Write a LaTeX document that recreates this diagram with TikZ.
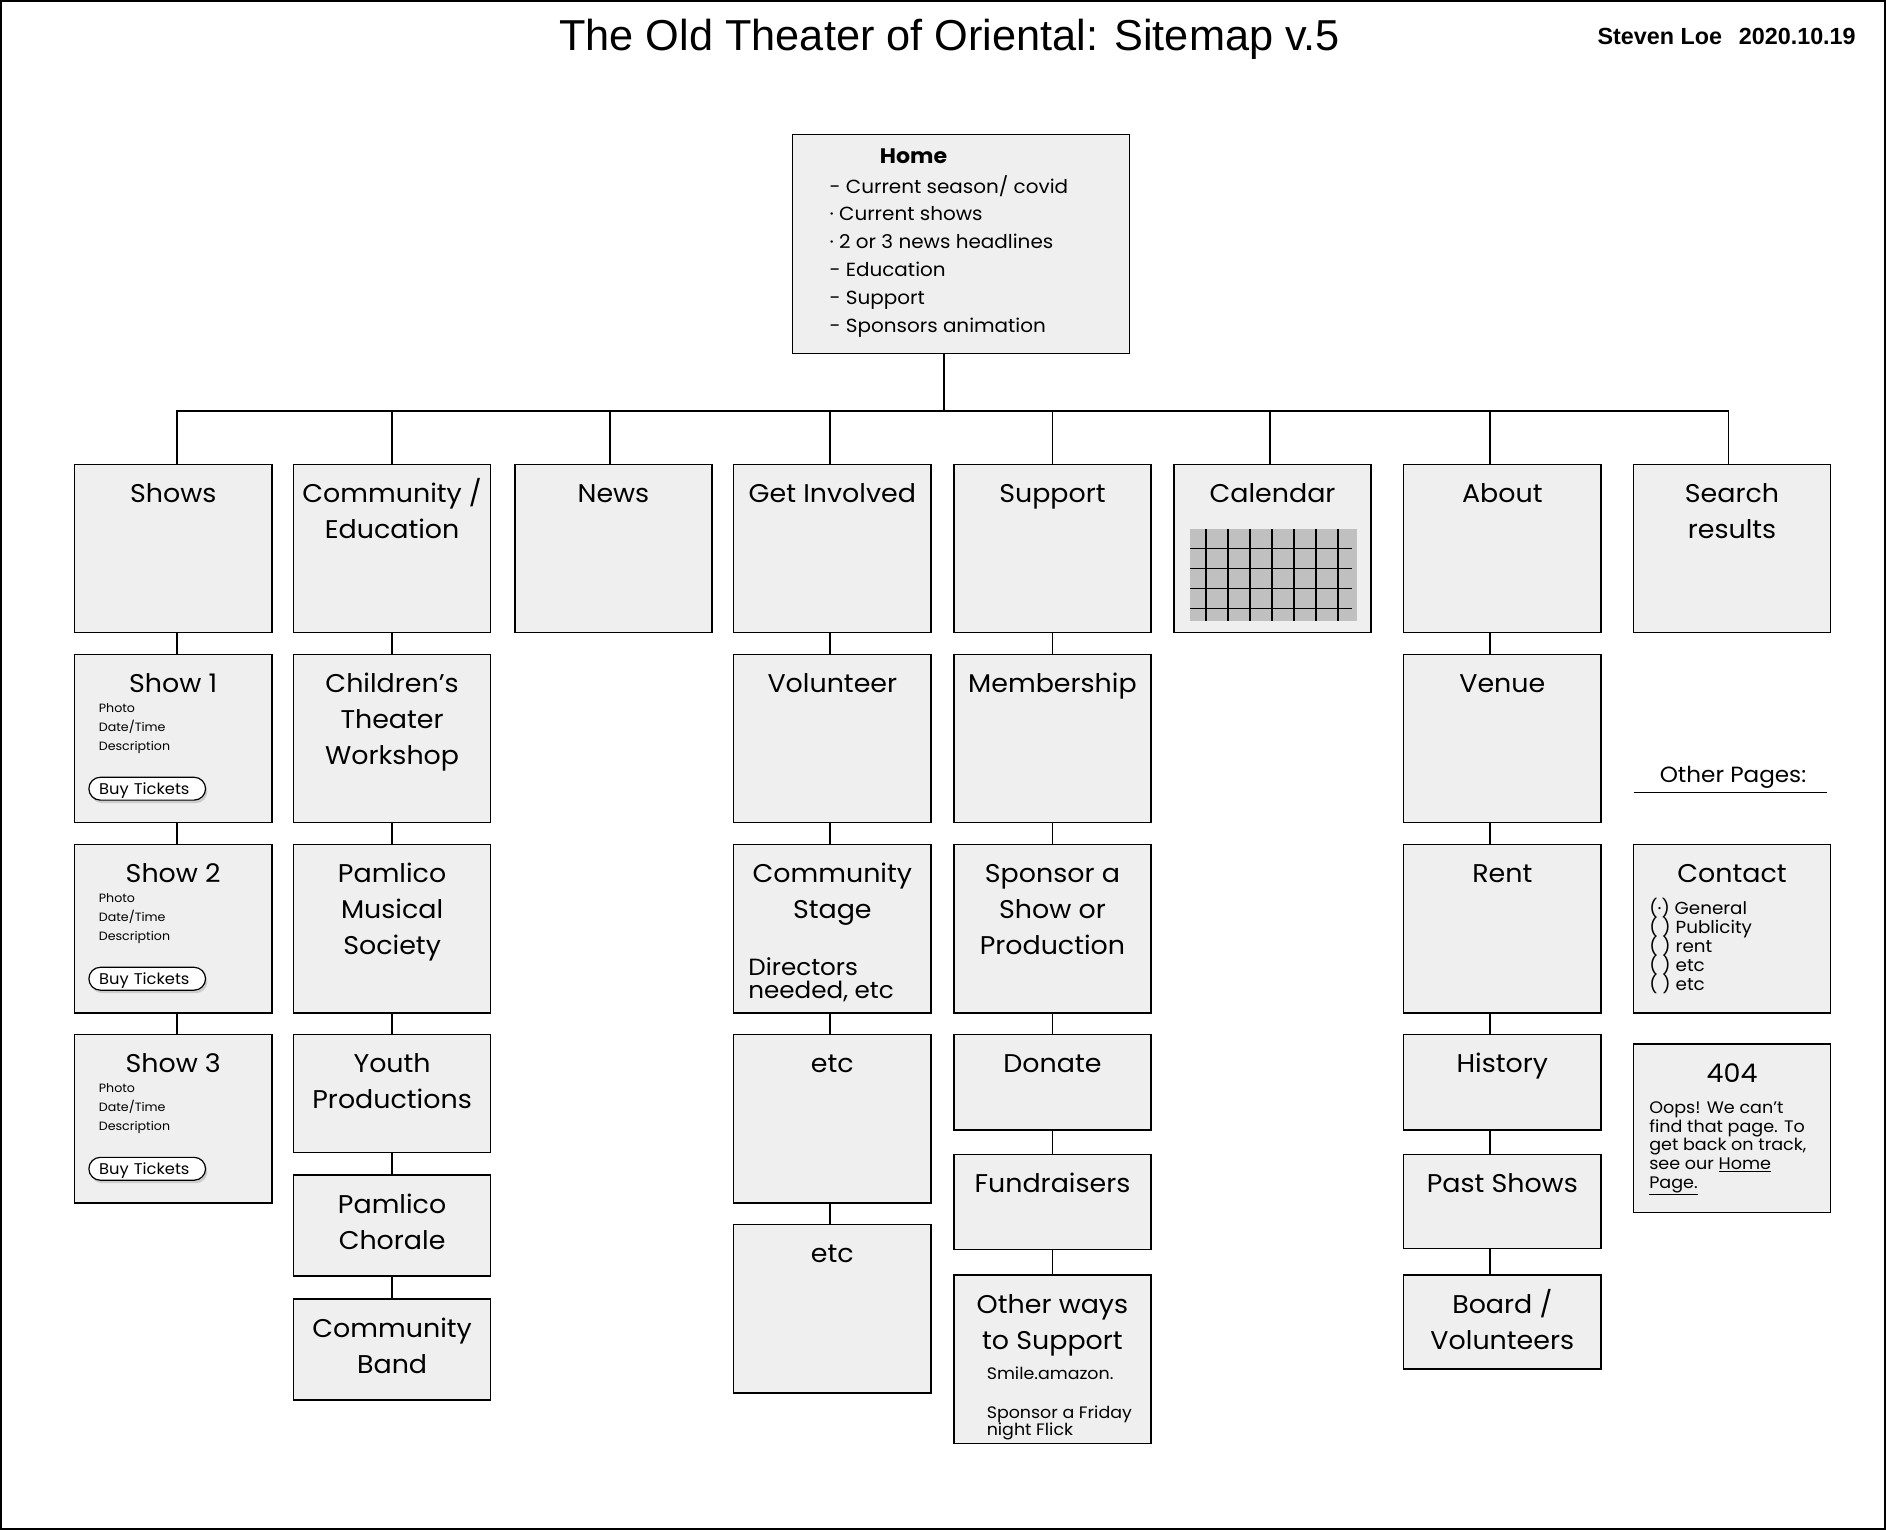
\documentclass[tikz,border=0pt]{standalone}
\usepackage{fontspec}
\setmainfont{Poppins}[FakeStretch=1.05]
\newfontfamily\headfont{Liberation Sans}
\usepackage{tikz}
\usetikzlibrary{positioning,calc,shadows}

\definecolor{boxgray}{HTML}{EFEFEF}
\definecolor{calgray}{HTML}{C0C0C0}

\tikzset{
  pagebox/.style={draw=black, line width=1.2pt, fill=boxgray, anchor=north west,
    minimum width=164pt, inner sep=0pt, outer sep=0pt},
  pagetitle/.style={anchor=north, align=center, inner sep=0pt,
    font=\fontsize{21.3}{30}\selectfont},
  smalltext/.style={anchor=base west, align=left, inner sep=0pt,
    font=\fontsize{10}{15.7}\selectfont},
  listtext/.style={anchor=base west, align=left, inner sep=0pt,
    font=\fontsize{14.5}{15.8}\selectfont},
  ticketbtn/.style={draw=black, line width=1pt, fill=white, anchor=north west,
    rounded corners=9.5pt, text width=80pt, align=left, inner xsep=8.5pt,
    inner ysep=3pt, text height=11.5pt, text depth=1.5pt,
    font=\fontsize{12.9}{16}\selectfont,
    drop shadow={shadow xshift=1.5pt, shadow yshift=-2.5pt, opacity=0.3}},
  link/.style={line width=1.5pt}
}

\begin{document}
\lineskiplimit=-100pt
\begin{tikzpicture}[x=1pt, y=-1pt]
  \useasboundingbox (0,0) rectangle (1568,1272);
  \draw[line width=1.6pt] (0.8,0.8) rectangle (1567.2,1271.2);

  \node[anchor=base, inner sep=0pt, font=\headfont\fontsize{36}{40}\selectfont] (title) at (789.5,41.6)
    {The Old Theater of Oriental: Sitemap v.5};
  \node[anchor=base east, inner sep=0pt, font=\headfont\bfseries\fontsize{19.4}{22}\selectfont] (author) at (1543,36.9)
    {Steven Loe\hspace{14pt}2020.10.19};

% Startseite
  \node[pagebox, minimum width=280pt, minimum height=182pt] (home) at (659,112) {};
  \node[anchor=base, inner sep=0pt, font=\bfseries\fontsize{17.5}{20}\selectfont] (home-t) at (759.5,136.3) {Home};
  \node[anchor=base west, align=left, inner sep=0pt, font=\fontsize{15.8}{23.2}\selectfont] (home-list) at (689.5,276.5)
    {- Current season/ covid\\· Current shows\\· 2 or 3 news headlines\\- Education\\- Support\\- Sponsors animation};
  \coordinate (bus) at ($(home.south)+(-14,48)$);
  \draw[link] ([xshift=-14]home.south) -- (bus);

% obere Ebene
  \foreach \nm/\xl/\dx/\txt in {shows/62/3/Shows, commedu/244/0/{Community /\\Education}, news/428/-3/News,
      involved/610/-2/Get Involved, support/793/0/Support, calendar/976/-2/Calendar,
      about/1167/-10/About, search/1358/-3/{Search\\results}}{
    \node[pagebox, minimum height=140pt] (\nm) at (\xl,386) {};
    \node[pagetitle] (\nm-t) at ($(\nm.north)+(0,11.5)$) {\rule{0pt}{20pt}\txt};
    \draw[link] (bus) -| ([xshift=\dx]\nm.north);
  }

% Kalender
  \fill[calgray] (989,440) rectangle (1128,516);
  \foreach \i in {0,...,6}
    \draw[line width=1.1pt] ({1002.6+18.3*\i},440) -- ++(0,76);
  \foreach \j in {0,...,3}
    \draw[line width=1.1pt] (989,{456.1+16.6*\j}) -- (1123.7,{456.1+16.6*\j});

% Unterseiten
  \foreach \nm/\xl/\yt/\hh/\txt in {show1/62/544/140/{Show 1}, show2/62/702/140/{Show 2}, show3/62/860/140/{Show 3},
      childrens/244/544/140/{Children’s\\Theater\\Workshop}, musical/244/702/140/{Pamlico\\Musical\\Society},
      youth/244/860/98/{Youth\\Productions}, chorale/244/977/84/{Pamlico\\Chorale}, band/244/1080/84/{Community\\Band},
      volunteer/610/544/140/Volunteer, stage/610/702/140/{Community\\Stage}, etca/610/860/140/etc, etcb/610/1018/140/etc,
      membership/793/544/140/Membership, sponsor/793/702/140/{Sponsor a\\Show or\\Production},
      donate/793/860/79.5/Donate, fundraisers/793/960/79/Fundraisers, otherways/793/1060/140/{Other ways\\to Support},
      venue/1167/544/140/Venue, rent/1167/702/140/Rent, history/1167/860/79.5/History,
      pastshows/1167/960/78/Past Shows, board/1167/1060/78/{Board /\\Volunteers},
      contact/1358/702/140/Contact, notfound/1358/868/140/404}{
    \node[pagebox, minimum height=\hh pt] (\nm) at (\xl,\yt) {};
    \node[pagetitle] (\nm-t) at ($(\nm.north)+(0,11.5)$) {\rule{0pt}{20pt}\txt};
  }

  \foreach \a/\b/\dx in {shows/show1/3, show1/show2/3, show2/show3/3,
      commedu/childrens/0, childrens/musical/0, musical/youth/0, youth/chorale/0, chorale/band/0,
      involved/volunteer/-2, volunteer/stage/-2, stage/etca/-2, etca/etcb/-2,
      support/membership/0, membership/sponsor/0, sponsor/donate/0, donate/fundraisers/0, fundraisers/otherways/0,
      about/venue/-10, venue/rent/-10, rent/history/-10, history/pastshows/-10, pastshows/board/-10}
    \draw[link] ([xshift=\dx]\a.south) -- ([xshift=\dx]\b.north);

% Details der Shows
  \foreach \s in {1,2,3}{
    \node[smalltext] (show\s-info) at ($(show\s.north west)+(20,79.9)$) {Photo\\Date/Time\\Description};
    \node[ticketbtn] (show\s-buy) at ($(show\s.north west)+(11.4,101.7)$) {Buy Tickets};
  }

  \node[anchor=base west, align=left, inner sep=0pt, font=\fontsize{19.5}{19.7}\selectfont] (stage-x)
    at ($(stage.north west)+(12,128.3)$) {Directors\\needed, etc};
  \node[anchor=base west, inner sep=0pt, font=\fontsize{13.8}{14}\selectfont] (otherways-x)
    at ($(otherways.north west)+(27.2,86.8)$) {Smile.amazon.};
  \node[anchor=base west, align=left, inner sep=0pt, font=\fontsize{13.8}{14}\selectfont] (otherways-y)
    at ($(otherways.north west)+(27.2,133.2)$) {Sponsor a Friday\\night Flick};

% andere Seiten
  \node[anchor=base, inner sep=0pt, font=\fontsize{18.3}{20}\selectfont] (otherpages) at (1440.8,650.6) {Other Pages:};
  \draw[line width=1pt] (1358.3,659) -- (1519.3,659);
  \node[listtext] (contact-x) at ($(contact.north west)+(13,121.5)$)
    {(·) General\\( ) Publicity\\( ) rent\\( ) etc\\( ) etc};
  \node[listtext, font=\fontsize{13.9}{15.5}\selectfont] (notfound-x) at ($(notfound.north west)+(13,119.8)$)
    {Oops! We can’t\\find that page. To\\get back on track,\\see our \underline{Home}\\\underline{Page.}};
\end{tikzpicture}
\end{document}
